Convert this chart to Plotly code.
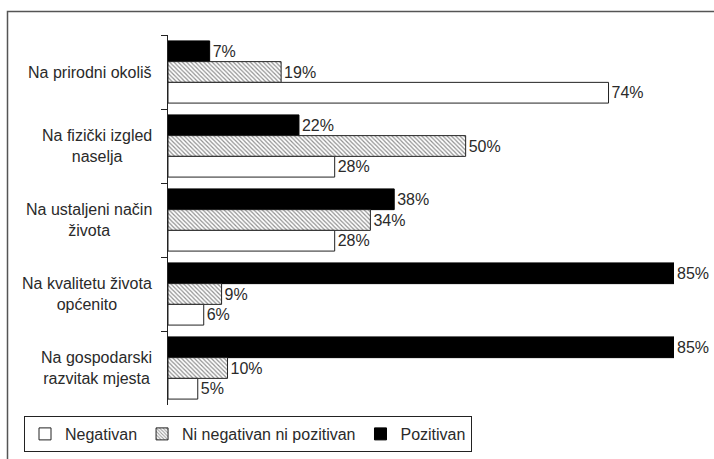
import plotly.graph_objects as go

categories = ["Na prirodni okoliš", "Na fizički izgled<br>naselja", "Na ustaljeni način<br>života",
              "Na kvalitetu života<br>općenito", "Na gospodarski<br>razvitak mjesta"]
negativan = [74, 28, 28, 6, 5]
neutralno = [19, 50, 34, 9, 10]
pozitivan = [7, 22, 38, 85, 85]
series_names = ["Negativan", "Ni negativan ni pozitivan", "Pozitivan"]

W, H = 714, 459
ML, MR, MT, MB = 168, 40, 35, 54
PW, PH = W - ML - MR, H - MT - MB

FONT = "Arial, Liberation Sans, sans-serif"
TXT = "#2a2a2a"

def lbl(vals):
    return [f"{v}%" for v in vals]

fig = go.Figure()
fig.add_trace(go.Bar(
    y=categories, x=pozitivan, name=series_names[2], orientation="h",
    marker=dict(color="black", line=dict(color="black", width=1)),
    text=lbl(pozitivan), textposition="outside", cliponaxis=False,
    textfont=dict(family=FONT, size=16, color=TXT),
))
fig.add_trace(go.Bar(
    y=categories, x=neutralno, name=series_names[1], orientation="h",
    marker=dict(color="white", line=dict(color="#222", width=1),
                pattern=dict(shape="\\", size=3, solidity=0.4, fgcolor="#222", bgcolor="white")),
    text=lbl(neutralno), textposition="outside", cliponaxis=False,
    textfont=dict(family=FONT, size=16, color=TXT),
))
fig.add_trace(go.Bar(
    y=categories, x=negativan, name=series_names[0], orientation="h",
    marker=dict(color="white", line=dict(color="#222", width=1)),
    text=lbl(negativan), textposition="outside", cliponaxis=False,
    textfont=dict(family=FONT, size=16, color=TXT),
))

for c in categories:
    fig.add_annotation(x=0, xref="paper", y=c, yref="y", text=c, showarrow=False,
                       xanchor="right", yanchor="middle", align="center", xshift=-14,
                       font=dict(family=FONT, size=16, color=TXT))

def px_to_paper_x(px):
    return (px - ML) / PW

def px_to_paper_y(py):
    return 1 - (py - MT) / PH

fig.add_shape(type="rect", xref="paper", yref="paper",
              x0=px_to_paper_x(7.5), x1=px_to_paper_x(730),
              y0=px_to_paper_y(475), y1=px_to_paper_y(11.5),
              line=dict(color="#555", width=1.5), fillcolor="rgba(0,0,0,0)", layer="below")

fig.update_layout(
    width=W, height=H,
    margin=dict(l=ML, r=MR, t=MT, b=MB, autoexpand=False),
    paper_bgcolor="white", plot_bgcolor="white",
    barmode="group", bargap=0.16, bargroupgap=0,
    font=dict(family=FONT, size=16, color=TXT),
    showlegend=True,
    legend=dict(orientation="h", traceorder="reversed",
                x=px_to_paper_x(24), y=px_to_paper_y(416), xanchor="left", yanchor="top",
                bordercolor="#222", borderwidth=1, bgcolor="white",
                font=dict(family=FONT, size=16, color=TXT)),
    xaxis=dict(range=[0, 85], showgrid=False, zeroline=False, showline=False,
               showticklabels=False, ticks=""),
    yaxis=dict(autorange="reversed", showgrid=False, showline=True, linecolor="#222",
               linewidth=1, ticks="outside", ticklen=6, tickcolor="#222",
               tickson="boundaries", showticklabels=False),
)

fig.write_html("out.html", config={"displayModeBar": False},
               post_script="document.body.style.margin='0';document.body.style.overflow='hidden';")
